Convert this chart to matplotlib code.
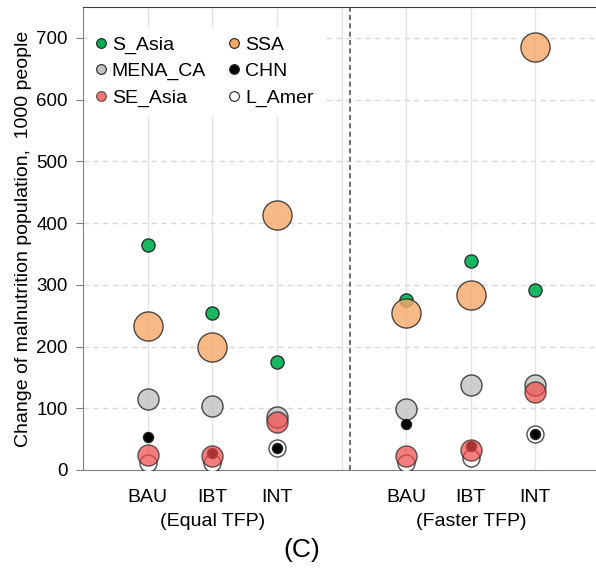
import matplotlib
matplotlib.use("Agg")
import matplotlib.pyplot as plt
from matplotlib.lines import Line2D

plt.rcParams['font.family'] = ['Liberation Sans', 'DejaVu Sans']

scenarios = ["BAU", "IBT", "INT", "BAU", "IBT", "INT"]
groups = ["(Equal TFP)", "(Faster TFP)"]
positions = [1, 2, 3, 5, 6, 7]

s_asia  = [365, 255, 175, 275, 338, 292]
ssa     = [234, 200, 413, 254, 283, 685]
mena_ca = [115, 104, 86, 99, 137, 138]
l_amer  = [11, 12, 35, 11, 19, 58]
chn     = [54, 28, 35, 74, 39, 58]
se_asia = [25, 22, 78, 23, 32, 127]

series = [
    ("S_Asia", s_asia, "#00B050", 90, 0.9),
    ("SSA", ssa, "#F6A868", 440, 0.8),
    ("MENA_CA", mena_ca, "#C4C2C2", 230, 0.8),
    ("L_Amer", l_amer, "#FFFFFF", 150, 0.8),
    ("CHN", chn, "#000000", 52, 1.0),
    ("SE_Asia", se_asia, "#F04848", 230, 0.7),
]

fig = plt.figure(figsize=(5.96, 5.68), dpi=100)
ax = fig.add_axes([83/596, (568-470)/568, (600-83)/596, (470-7)/568])

for name, vals, col, size, a in series:
    ax.scatter(positions, vals, s=size, c=col, alpha=a, edgecolors="#222222",
               linewidths=1.0, zorder=3)

ax.set_xlim(0, 8)
ax.set_ylim(0, 750)
ax.set_yticks(range(0, 701, 100))
ax.set_xticks(positions)
ax.set_xticklabels(scenarios, fontsize=14)
ax.tick_params(axis='x', length=0, pad=14)
ax.tick_params(axis='y', labelsize=13.5, length=5, pad=6, color="#808080", direction='out')

for xg in range(1, 8):
    ax.axvline(xg, color="#E3E3E3", lw=1.0, zorder=0)
for yg in range(100, 701, 100):
    ax.axhline(yg, color="#D9D9D9", lw=1.0, ls=(0, (4, 3)), zorder=0)
ax.axvline(4.13, color="#555555", lw=1.2, ls=(0, (3, 2)), zorder=1)

for sp in ['left', 'bottom']:
    ax.spines[sp].set_color("#808080")
ax.spines['top'].set_color("#404040")
ax.spines['right'].set_visible(False)

ax.set_ylabel("Change of malnutrition population,  1000 people", fontsize=14, labelpad=3)

ax.text(2, -83, groups[0], ha='center', va='center', fontsize=14)
ax.text(6, -83, groups[1], ha='center', va='center', fontsize=14)
fig.text(302/596, 1 - 550/568, "(C)", ha='center', va='center', fontsize=19)

order = ["S_Asia", "MENA_CA", "SE_Asia", "SSA", "CHN", "L_Amer"]
lookup = {n: (c, a) for n, v, c, s, a in series}
handles = []
for n in order:
    c, a = lookup[n]
    handles.append(Line2D([], [], ls='', marker='o', markersize=7, markerfacecolor=c,
                          markeredgecolor="#222222", markeredgewidth=0.8, alpha=1.0 if n != "SE_Asia" else 0.75, label=n))
leg = ax.legend(handles=handles, ncol=2, loc='upper left', bbox_to_anchor=(-0.01, 0.975),
                fontsize=14, frameon=True, framealpha=1.0, edgecolor='white',
                handlelength=0.6, handletextpad=0.25, labelspacing=0.45,
                columnspacing=1.15, borderpad=0.4)
leg.set_zorder(5)

fig.savefig("out.png", dpi=100)
